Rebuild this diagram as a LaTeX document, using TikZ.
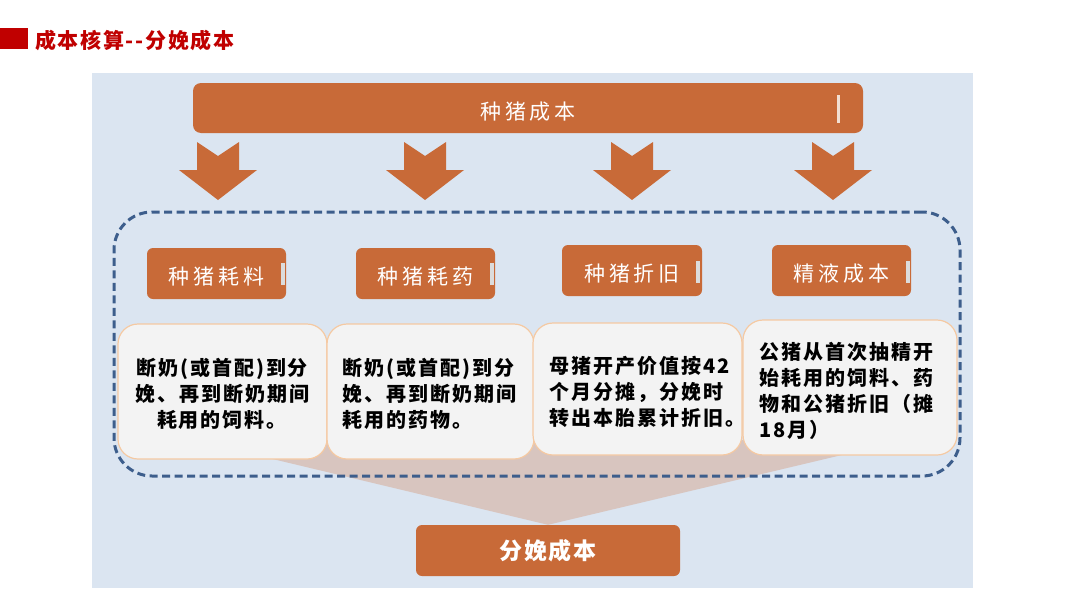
\documentclass[tikz,border=0pt]{standalone}
\usepackage{fontspec}
\setmainfont{Noto Sans CJK SC}
\definecolor{bgblue}{HTML}{DBE5F1}
\definecolor{org}{HTML}{C86A38}
\definecolor{dashblue}{HTML}{3D5E8C}
\definecolor{boxfill}{HTML}{F3F3F3}
\definecolor{boxline}{HTML}{F5C9A2}
\definecolor{funnelc}{HTML}{D8C5BF}
\definecolor{titlered}{HTML}{C00000}
\definecolor{barlight}{HTML}{F2DFD2}
\definecolor{bargrey}{HTML}{DCDCDC}
\begin{document}
\begin{tikzpicture}[x=1pt,y=-1pt,
  orgbox/.style={fill=org, rounded corners=6pt, text=white, inner sep=0,
    font=\fontsize{21}{24}\selectfont\addfontfeature{LetterSpace=18}},
  lowtext/.style={text height=24pt, text depth=2pt},
  descbox/.style={fill=boxfill, draw=boxline, line width=1.2pt, rounded corners=20pt, inner sep=0},
  desctext/.style={inner sep=0, text=black,
    font=\bfseries\fontsize{20}{26}\selectfont\addfontfeature{LetterSpace=10}},
  groupbox/.style={draw=dashblue, line width=3pt, dash pattern=on 8pt off 4.5pt, rounded corners=38pt, inner sep=0},
  barrow/.pic={\fill[org] (-21,0) -- (0,14) -- (21,0) -- (21,28) -- (39,28) -- (0,58) -- (-39,28) -- (-21,28) -- cycle;}
]
\useasboundingbox (0,0) rectangle (1080,608);
\fill[white] (0,0) rectangle (1080,608);
% title
\fill[titlered] (0,28) rectangle (28,49);
\node[anchor=west, inner sep=0, text=titlered, font=\bfseries\fontsize{21}{24}\selectfont\addfontfeature{LetterSpace=8}] (title) at (35,40) {成本核算-{}-分娩成本};
% background panel
\fill[bgblue] (92,73) rectangle (973,588);
% bottom box
\node[orgbox, minimum width=264pt, minimum height=51pt, font=\bfseries\fontsize{23}{26}\selectfont\addfontfeature{LetterSpace=8}] (fen) at (548,550.5) {分娩成本};
% funnel
\fill[funnelc] (193,440) -- (905,440) -- (fen.north) -- cycle;
% dashed group
\node[groupbox, minimum width=846pt, minimum height=264pt] (group) at (537,344) {};
% top bar
\node[orgbox, lowtext, rounded corners=8pt, minimum width=670pt, minimum height=50pt] (top) at (528,108) {种猪成本};
\fill[barlight] (837,95) rectangle (840,123);
% arrows
\foreach \cx in {218,425,632,833} \pic at (\cx,142) {barrow};
% small orange boxes
\node[orgbox, lowtext, minimum width=139pt, minimum height=51pt] (c1) at (216.5,273.5) {种猪耗料};
\node[orgbox, lowtext, minimum width=139pt, minimum height=51pt] (c2) at (425.5,273.5) {种猪耗药};
\node[orgbox, lowtext, minimum width=140pt, minimum height=51pt] (c3) at (632,270.5) {种猪折旧};
\node[orgbox, lowtext, minimum width=139pt, minimum height=51pt] (c4) at (841.5,270.5) {精液成本};
\fill[bargrey] (281,263) rectangle (285,285);
\fill[bargrey] (490,263) rectangle (494,285);
\fill[bargrey] (696,261) rectangle (700,283);
\fill[bargrey] (906,261) rectangle (910,283);
% description boxes
\node[descbox, minimum width=209pt, minimum height=135pt] (d1) at (222.5,391.5) {};
\node[descbox, minimum width=207pt, minimum height=135pt] (d2) at (430.5,391.5) {};
\node[descbox, minimum width=209pt, minimum height=132pt] (d3) at (637.5,389) {};
\node[descbox, minimum width=214pt, minimum height=135pt] (d4) at (850,387.5) {};
\node[desctext, align=center] (t1) at (222,394) {断奶(或首配)到分\\娩、再到断奶期间\\耗用的饲料。};
\node[desctext, align=left, anchor=west] (t2) at (342,394) {断奶(或首配)到分\\娩、再到断奶期间\\耗用的药物。};
\node[desctext, align=left, anchor=west] (t3) at (549,392) {母猪开产价值按42\\个月分摊，分娩时\\转出本胎累计折旧。};
\node[desctext, align=left, anchor=west] (t4) at (759,391) {公猪从首次抽精开\\始耗用的饲料、药\\物和公猪折旧（摊\\18月）};
\end{tikzpicture}
\end{document}
